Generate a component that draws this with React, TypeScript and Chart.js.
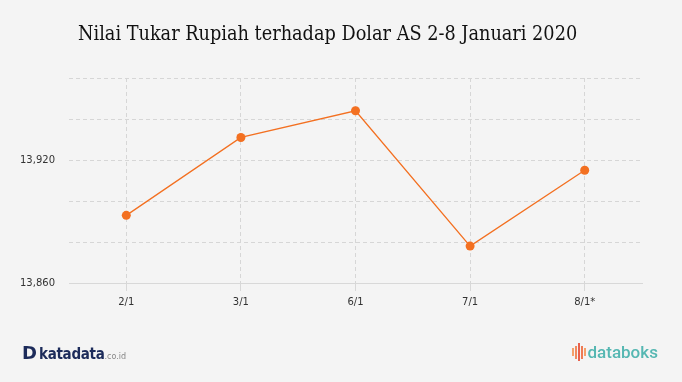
import React, { useEffect, useRef } from "react";
import { Chart, registerables } from "chart.js";

Chart.register(...registerables);

const title = "Nilai Tukar Rupiah terhadap Dolar AS 2-8 Januari 2020";
const categories = ["2/1", "3/1", "6/1", "7/1", "8/1*"];
const rates = [13893, 13931, 13944, 13878, 13915];
const yMin = 13860;
const yMax = 13960;
const yStep = 20;
const yLabelEvery = 60;

export default function App() {
  const ref = useRef<HTMLCanvasElement | null>(null);

  useEffect(() => {
    if (!ref.current) return;
    const chart = new Chart(ref.current, {
      type: "line",
      data: {
        labels: categories,
        datasets: [
          {
            data: rates,
            borderColor: "#f37021",
            backgroundColor: "#f37021",
            borderWidth: 1.3,
            pointRadius: 4.5,
            pointBorderWidth: 0,
            pointBackgroundColor: "#f37021",
            tension: 0,
          },
        ],
      },
      options: {
        responsive: false,
        animation: false,
        layout: { padding: { left: 0, top: 78, right: 40, bottom: 69 } },
        plugins: { legend: { display: false }, tooltip: { enabled: false }, title: { display: false } },
        scales: {
          x: {
            offset: true,
            afterFit: (s: any) => {
              s.height = 30;
            },
            grid: {
              color: "#d6d6d6",
              lineWidth: 1,
              drawTicks: true,
              tickLength: 8,
              tickColor: "#d8d8d8",
              offset: false,
            },
            border: { display: true, color: "#d8d8d8", width: 1, dash: [4, 3] },
            ticks: {
              color: "#333",
              font: { family: "DejaVu Sans", size: 10 },
              padding: 5,
              maxRotation: 0,
              autoSkip: false,
            },
          },
          y: {
            min: yMin,
            max: yMax,
            afterFit: (s: any) => {
              s.width = 69;
            },
            grid: { color: "#d6d6d6", lineWidth: 1, drawTicks: false },
            border: { display: false, dash: [4, 3] },
            ticks: {
              stepSize: yStep,
              padding: 14,
              color: "#333",
              font: { family: "DejaVu Sans", size: 10 },
              callback: (v: any) => (Number(v) % yLabelEvery === 0 ? Number(v).toLocaleString("en-US") : ""),
            },
          },
        },
      },
    });
    return () => chart.destroy();
  }, []);

  const bars = [
    { h: 8, c: "#f5a06a" },
    { h: 13, c: "#f08a5d" },
    { h: 18, c: "#e8604c" },
    { h: 13, c: "#ee7b55" },
    { h: 8, c: "#f5a06a" },
  ];

  return (
    <div
      style={{
        position: "fixed",
        left: 0,
        top: 0,
        width: 682,
        height: 382,
        background: "#f4f4f4",
        overflow: "hidden",
      }}
    >
      <canvas ref={ref} width={682} height={382} style={{ position: "absolute", left: 0, top: 0 }} />
      <div
        style={{
          position: "absolute",
          left: 78,
          top: 22,
          fontFamily: "DejaVu Serif Condensed, DejaVu Serif",
          fontSize: 19.7,
          lineHeight: "24px",
          color: "#111",
          whiteSpace: "nowrap",
        }}
      >
        {title}
      </div>
      <div
        style={{
          position: "absolute",
          left: 22,
          top: 342,
          whiteSpace: "nowrap",
          color: "#1c2b5a",
          display: "flex",
          alignItems: "baseline",
        }}
      >
        <span style={{ fontFamily: "DejaVu Sans", fontWeight: 900, fontSize: 18 }}>D</span>
        <span
          style={{
            fontFamily: "DejaVu Sans Condensed, DejaVu Sans",
            fontWeight: 700,
            fontSize: 15,
            marginLeft: 2,
            letterSpacing: -0.3,
          }}
        >
          katadata
        </span>
        <span style={{ fontFamily: "DejaVu Sans", fontSize: 8, color: "#888" }}>.co.id</span>
      </div>
      <div
        style={{
          position: "absolute",
          left: 572,
          top: 342,
          whiteSpace: "nowrap",
          display: "flex",
          alignItems: "center",
        }}
      >
        <div style={{ display: "flex", alignItems: "center", gap: 1.5, height: 20 }}>
          {bars.map((b, i) => (
            <div key={i} style={{ width: 1.5, height: b.h, background: b.c }} />
          ))}
        </div>
        <span
          style={{
            fontFamily: "Roboto, Noto Sans",
            fontWeight: 500,
            fontSize: 17,
            color: "#55b7b2",
            marginLeft: 2,
          }}
        >
          databoks
        </span>
      </div>
    </div>
  );
}
